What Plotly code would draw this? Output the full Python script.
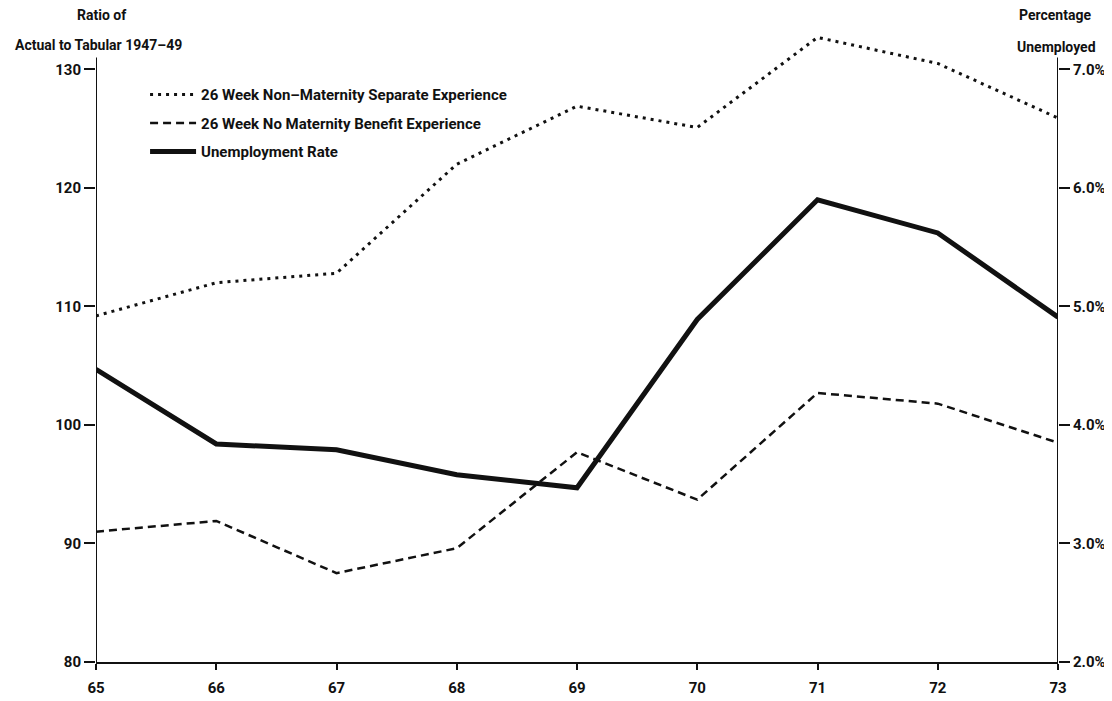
import plotly.graph_objects as go

years = [65, 66, 67, 68, 69, 70, 71, 72, 73]
year_labels = ["65", "66", "67", "68", "69", "70", "71", "72", "73"]
non_maternity_separate = [109.2, 112.0, 112.8, 122.0, 126.9, 125.1, 132.7, 130.5, 125.9]
no_maternity_benefit = [91.0, 91.9, 87.5, 89.6, 97.7, 93.7, 102.7, 101.8, 98.5]
unemployment_rate = [4.47, 3.84, 3.79, 3.58, 3.47, 4.89, 5.9, 5.62, 4.91]
left_ticks = [80, 90, 100, 110, 120, 130]
right_ticks = [2.0, 3.0, 4.0, 5.0, 6.0, 7.0]
right_tick_labels = ["2.0%", "3.0%", "4.0%", "5.0%", "6.0%", "7.0%"]

FONT = "Roboto, Liberation Sans, sans-serif"
INK = "#111111"

# page has an 8px body margin; figure is sized to fit the window
OFF = 8
FIG_W, FIG_H = 1112 - OFF, 701 - OFF
PLOT_L, PLOT_R, PLOT_T, PLOT_B = 96, 1058, 22, 662.5  # page pixels

fig = go.Figure()
fig.add_trace(go.Scatter(
    x=years, y=non_maternity_separate, mode="lines",
    name="26 Week Non\u2013Maternity Separate Experience",
    legendgroup="a",
    line=dict(color=INK, width=3, dash="3px,5px"),
))
fig.add_trace(go.Scatter(
    x=years, y=no_maternity_benefit, mode="lines",
    name="26 Week No Maternity Benefit Experience",
    legendgroup="b",
    line=dict(color=INK, width=2.5, dash="8px,5px"),
))
fig.add_trace(go.Scatter(
    x=years, y=unemployment_rate, mode="lines", yaxis="y2",
    name="Unemployment Rate",
    legendgroup="c",
    line=dict(color=INK, width=5),
))

tickfont = dict(family=FONT, size=15, color=INK, weight="bold")

fig.update_layout(
    width=FIG_W, height=FIG_H,
    margin=dict(l=PLOT_L - OFF, r=FIG_W - (PLOT_R - OFF), t=PLOT_T - OFF,
                b=FIG_H - (PLOT_B - OFF), autoexpand=False),
    paper_bgcolor="white", plot_bgcolor="white",
    font=dict(family=FONT, color=INK),
    showlegend=True,
    legend=dict(
        x=0.051, y=0.912, xanchor="left", yanchor="top",
        bgcolor="rgba(0,0,0,0)", borderwidth=0,
        font=dict(family=FONT, size=15, color=INK, weight="bold"),
        traceorder="grouped", tracegroupgap=6,
        itemwidth=46,
    ),
    xaxis=dict(
        range=[65, 73], tickvals=years, ticktext=year_labels,
        showgrid=False, zeroline=False, automargin=False,
        showline=True, linecolor=INK, linewidth=2,
        ticks="outside", ticklen=6, tickwidth=2, tickcolor=INK,
        tickfont=tickfont, ticklabelstandoff=5,
    ),
    yaxis=dict(
        range=[80, 134], tickvals=left_ticks, automargin=False,
        showgrid=False, zeroline=False, showline=False,
        ticks="outside", ticklen=11, tickwidth=2, tickcolor=INK,
        tickfont=tickfont,
    ),
    yaxis2=dict(
        range=[2.0, 7.4], tickvals=right_ticks, ticktext=right_tick_labels,
        overlaying="y", side="right", automargin=False,
        showgrid=False, zeroline=False, showline=False,
        ticks="outside", ticklen=11, tickwidth=2, tickcolor=INK,
        tickfont=tickfont,
    ),
    shapes=[
        dict(type="line", xref="x", yref="y", x0=65, x1=65, y0=80, y1=131,
             line=dict(color=INK, width=2)),
        dict(type="line", xref="x", yref="y", x0=73, x1=73, y0=80, y1=131,
             line=dict(color=INK, width=2)),
    ],
)

title_font = dict(family=FONT, size=14, color=INK, weight="bold")


def px_to_paper(px_x, px_y):
    return ((px_x - PLOT_L) / (PLOT_R - PLOT_L),
            (PLOT_B - px_y) / (PLOT_B - PLOT_T))


for text, cx, cy in [
    ("Ratio of", 102, 15),
    ("Actual to Tabular 1947\u201349", 98, 45),
    ("Percentage", 1055, 15),
    ("Unemployed", 1056, 47),
]:
    px, py = px_to_paper(cx, cy)
    fig.add_annotation(text=text, x=px, y=py, xref="paper", yref="paper",
                       xanchor="center", yanchor="middle", showarrow=False,
                       font=title_font)

fig.write_html("out.html")
